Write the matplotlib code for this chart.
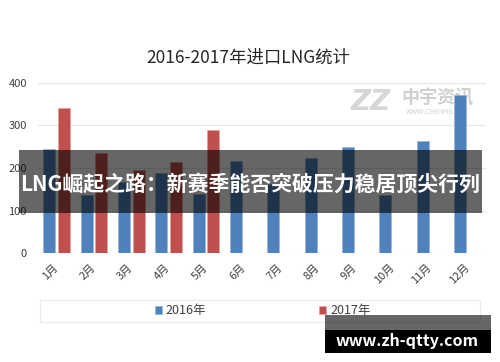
import numpy as np
import matplotlib.pyplot as plt
from matplotlib.patches import Rectangle

plt.rcParams['font.family'] = ['Noto Sans CJK SC', 'DejaVu Sans']

# 数据
months = ['1月', '2月', '3月', '4月', '5月', '6月', '7月', '8月', '9月', '10月', '11月', '12月']
v2016 = [245, 136, 167, 187, 139, 217, 162, 223, 250, 137, 263, 372]
v2017 = [342, 235, 196, 215, 290]
series_names = ['2016年', '2017年']
yticks = [0, 100, 200, 300, 400]

blue = '#4F81BD'
red = '#C0504D'

fig = plt.figure(figsize=(5, 3.62), dpi=100)
ax = fig.add_axes([0.076, 0.301, 0.896, 0.47])
ax.patch.set_alpha(0)

x = np.arange(len(months))
w = 0.32
ax.bar(x[:len(v2016)] - 0.2, v2016, w, color=blue, edgecolor='#9DB5D8', linewidth=0.6,
       label=series_names[0], zorder=2)
ax.bar(x[:len(v2017)] + 0.2, v2017, w, color=red, edgecolor='#DDA09E', linewidth=0.6,
       label=series_names[1], zorder=2)

ax.set_xlim(-0.5, 11.5)
ax.set_ylim(0, 400)
ax.set_yticks(yticks)
ax.grid(axis='y', color='#E6E6E6', linewidth=0.8, zorder=0)
for s in ax.spines.values():
    s.set_visible(False)
ax.tick_params(axis='both', length=0, labelsize=8, colors='#404040')
ax.tick_params(axis='y', pad=8)
ax.set_xticks(x)
ax.set_xticklabels(months, rotation=45, ha='right', va='center', rotation_mode='anchor')
ax.tick_params(axis='x', pad=9)

fig.text(0.497, 0.842, '2016-2017年进口LNG统计', ha='center', va='center', fontsize=12.5, color='#262626')

# 图例
fig.patches.append(Rectangle((0.08, 0.111), 0.88, 0.061, transform=fig.transFigure,
                             facecolor='none', edgecolor='#EBEBEB', linewidth=0.8))
leg = ax.legend(loc='center', bbox_to_anchor=(0.525, 0.141), bbox_transform=fig.transFigure,
                ncol=2, frameon=False, fontsize=9, handlelength=0.6, handleheight=0.6,
                handletextpad=0.3, columnspacing=9.0)
for t in leg.get_texts():
    t.set_color('#404040')

# 水印 (在柱子后面)
fig.text(0.875, 0.73, '中宇资讯', ha='center', va='center', fontsize=13, fontweight='bold',
         color='#D0D0D0', zorder=-1)
fig.text(0.875, 0.69, 'WWW.CHEM99.NET', ha='center', va='center', fontsize=5, color='#D0D0D0',
         zorder=-1)
fig.text(0.742, 0.718, 'ZZ', ha='center', va='center', fontsize=20, fontweight='bold',
         fontstyle='italic', color='#D6D6D6', family='DejaVu Sans', zorder=-1)

# 横幅
fig.patches.append(Rectangle((0.038, 0.4116), 0.926, 0.174, transform=fig.transFigure,
                             facecolor='black', alpha=0.6, edgecolor='none', zorder=5))
fig.text(0.04, 0.492, 'LNG崛起之路：新赛季能否突破压力稳居顶尖行列', ha='left', va='center',
         fontsize=15, fontweight='bold', color='white', zorder=6)

fig.patches.append(Rectangle((0.65, 0.0884), 0.332, 0.0414, transform=fig.transFigure,
                             facecolor='black', alpha=0.6, edgecolor='none', zorder=5))
fig.patches.append(Rectangle((0.65, 0.0249), 0.332, 0.0635, transform=fig.transFigure,
                             facecolor='black', edgecolor='none', zorder=5))
fig.text(0.814, 0.058, 'www.zh-qtty.com', ha='center', va='center', fontsize=11.5,
         fontweight='bold', color='white', zorder=6)

fig.savefig('out.png', dpi=100)
